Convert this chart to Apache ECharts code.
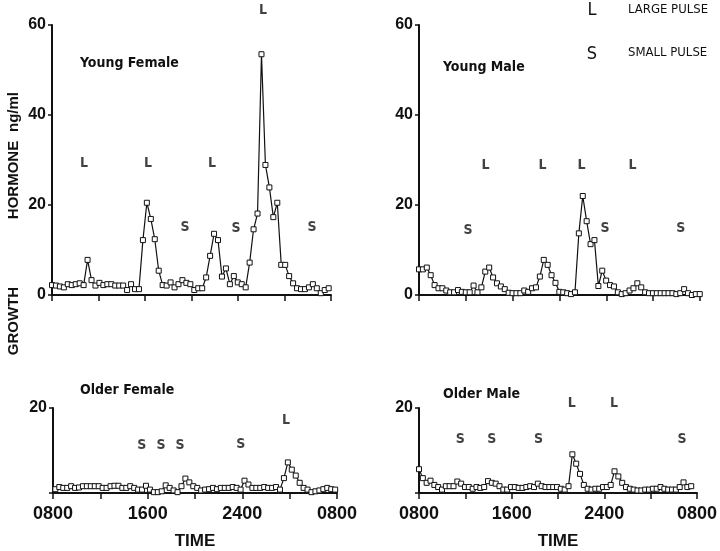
<!DOCTYPE html>
<html>
<head>
<meta charset="utf-8">
<script src="https://cdn.jsdelivr.net/npm/echarts@6/dist/echarts.min.js"></script>
<style>
  html, body { margin: 0; padding: 0; background: #fff; }
  #chart { width: 720px; height: 551px; }
</style>
</head>
<body>
<div id="chart"></div>
<script>
// GH concentration (ng/ml), one sample about every 20 min from 0800 to 0800
const youngFemale = [2.2,2.1,1.9,1.7,2.4,2.2,2.4,2.6,2.2,7.8, 3.3,2.1,2.7,2.2,2.4,2.4,2.1,2.1,2.1,1.1,
  2.4,1.3,1.3,12.2,20.5,16.9,12.4,5.4,2.2,2.1, 2.8,1.7,2.4,3.3,2.7,2.4,1.1,1.5,1.5,3.9,
  8.7,13.6,12.2,4.1,5.9,2.4,4.2,2.8,2.4,1.7, 7.2,14.6,18.1,53.5,28.9,23.9,17.3,20.5,6.7,6.7,
  4.2,2.6,1.5,1.3,1.3,1.7,2.4,1.5,0.4,1.1, 1.5];
const youngMale = [5.7,5.7,6.1,4.4,2.2,1.5,1.5,1.0,0.6,0.6, 1.1,0.7,0.6,0.6,2.1,0.6,1.7,5.2,6.1,3.9,
  2.6,1.9,1.3,0.5,0.4,0.4,0.4,1.0,0.7,1.5, 1.7,4.1,7.8,6.7,4.4,2.7,0.7,0.6,0.4,0.2,
  0.6,13.7,22.0,16.4,11.3,12.2,2.0,5.4,3.2,2.2, 1.9,0.6,0.2,0.4,1.0,1.5,2.6,1.7,0.6,0.4,
  0.4,0.4,0.4,0.4,0.4,0.4,0.2,0.4,1.3,0.4, 0,0.2,0.2];
const olderFemale = [0.9,1.4,1.2,1.2,1.6,1.2,1.3,1.6,1.6,1.6, 1.6,1.6,1.2,1.2,1.6,1.7,1.7,1.2,1.2,1.6,
  1.2,0.8,0.8,1.7,0.8,0.2,0.2,0.4,1.8,1.2, 0.6,0.2,1.6,3.4,2.5,1.6,1.2,0.6,0.8,0.9,
  1.2,0.9,1.2,1.2,1.2,1.4,1.2,0.8,2.9,2.0, 1.2,1.2,1.2,1.4,1.2,1.2,1.4,0.8,3.5,7.2,
  5.5,4.1,2.4,1.2,0.8,0.2,0.4,0.6,0.9,1.2, 0.9,0.8];
const olderMale = [5.6,3.5,2.4,2.9,1.9,1.4,0.8,1.6,1.6,1.6, 2.7,2.2,1.4,1.4,1.0,1.4,1.2,1.4,2.8,2.4,
  2.2,1.6,0.8,0.8,1.4,1.4,1.2,1.2,1.4,1.6, 1.4,2.2,1.6,1.4,1.4,1.4,1.4,1.0,0.8,1.6,
  9.1,6.9,4.5,1.9,1.0,0.8,1.0,1.0,1.4,1.4, 1.9,5.1,3.9,2.4,1.4,1.0,0.8,0.6,0.6,0.8,
  0.8,1.0,1.0,1.4,1.0,0.8,0.8,0.8,1.4,2.5, 1.4,1.6];

// first sample time and sampling step (hours after 0800)
const sampleStart = [0, 0, 0.2, 0];
const sampleStep = [0.34, 0.333, 0.333, 0.331];

// pulse letters: [hours after 0800, ng/ml, letter]
const youngFemaleMarks = [[2.75,29.3,'L'],[8.26,29.3,'L'],[13.76,29.3,'L'],[18.15,63.3,'L'],
  [11.44,15.1,'S'],[15.83,14.9,'S'],[22.37,15.1,'S']];
const youngMaleMarks = [[4.19,14.4,'S'],[5.68,28.9,'L'],[10.55,28.9,'L'],[13.88,28.9,'L'],
  [18.24,28.9,'L'],[15.88,14.7,'S'],[22.35,14.9,'S']];
const olderFemaleMarks = [[7.5,11.3,'S'],[9.13,11.1,'S'],[10.73,11.1,'S'],[15.86,11.5,'S'],[19.69,17.2,'L']];
const olderMaleMarks = [[3.56,12.6,'S'],[6.29,12.6,'S'],[10.33,12.6,'S'],[13.18,21.1,'L'],
  [16.83,21.1,'L'],[22.72,12.6,'S']];

const panelTitles = ['Young Female', 'Young Male', 'Older Female', 'Older Male'];
const timeLabels = { 0: '0800', 8: '1600', 16: '2400', 24: '0800' };

const ink = '#111';
const font = 'Liberation Sans, Arial, sans-serif';
const narrow = '"Liberation Sans Narrow", "DejaVu Sans Condensed", "Liberation Sans", sans-serif';

const chart = echarts.init(document.getElementById('chart'));

const grids = [
  { left: 52, top: 25, width: 279, height: 270 },
  { left: 419, top: 25, width: 281, height: 270 },
  { left: 53, top: 408, width: 284, height: 85 },
  { left: 419, top: 408, width: 281, height: 87 },
];

const xAxes = grids.map((g, i) => ({
  type: 'value', gridIndex: i, min: 0, max: 24, interval: 4,
  axisLine: { lineStyle: { color: ink, width: 2 } },
  axisTick: { show: true, length: 6, lineStyle: { color: ink, width: 1.5 } },
  splitLine: { show: false },
  axisLabel: {
    show: i >= 2, margin: 12, showMinLabel: true, showMaxLabel: true,
    color: ink, fontSize: 18, fontWeight: 'bold', fontFamily: font,
    formatter: v => timeLabels[v] || '',
  },
  name: i >= 2 ? 'TIME' : '',
  nameLocation: 'middle', nameGap: 40,
  nameTextStyle: { color: ink, fontSize: 17, fontWeight: 'bold', fontFamily: font },
}));

const yAxes = grids.map((g, i) => ({
  type: 'value', gridIndex: i, min: 0, max: i < 2 ? 60 : 20, interval: 20,
  axisLine: { show: true, lineStyle: { color: ink, width: 2 } },
  axisTick: { show: true, length: 4, lineStyle: { color: ink, width: 1.5 } },
  splitLine: { show: false },
  axisLabel: {
    margin: 6, color: ink, fontSize: 16, fontWeight: 'bold', fontFamily: font,
    formatter: v => (i >= 2 && v === 0 ? '' : String(v)),
  },
}));

const values = [youngFemale, youngMale, olderFemale, olderMale];
const marks = [youngFemaleMarks, youngMaleMarks, olderFemaleMarks, olderMaleMarks];

const series = [];
values.forEach((vals, i) => {
  series.push({
    type: 'line', xAxisIndex: i, yAxisIndex: i,
    data: vals.map((v, k) => [sampleStart[i] + k * sampleStep[i], v]),
    symbol: 'rect', symbolSize: 5, showAllSymbol: true,
    itemStyle: { color: '#fff', borderColor: ink, borderWidth: 1 },
    lineStyle: { color: ink, width: 1.2 },
  });
  series.push({
    type: 'scatter', xAxisIndex: i, yAxisIndex: i, clip: false,
    data: marks[i], symbolSize: 1,
    itemStyle: { color: 'rgba(0,0,0,0)' },
    label: {
      show: true, position: 'inside', formatter: p => p.value[2],
      color: ink, fontSize: 14, fontWeight: 'bold', fontFamily: narrow,
    },
  });
});

const titlePos = [[80, 65], [443, 69], [80, 392], [443, 396]];
const graphic = panelTitles.map((t, i) => ({
  type: 'text', left: titlePos[i][0], top: titlePos[i][1] - 9,
  style: { text: t, fill: ink, font: 'bold 14px ' + narrow },
}));

// legend
graphic.push(
  { type: 'text', x: 592, y: 10, style: { text: 'L', fill: ink, font: '18px ' + narrow, textAlign: 'center', textVerticalAlign: 'middle' } },
  { type: 'text', x: 628, y: 10, style: { text: 'LARGE PULSE', fill: ink, font: '13px ' + narrow, textVerticalAlign: 'middle' } },
  { type: 'text', x: 592, y: 54, style: { text: 'S', fill: ink, font: '18px ' + narrow, textAlign: 'center', textVerticalAlign: 'middle' } },
  { type: 'text', x: 628, y: 53, style: { text: 'SMALL PULSE', fill: ink, font: '13px ' + narrow, textVerticalAlign: 'middle' } }
);

// vertical axis title, split like the original
[['ng/ml', 112], ['HORMONE', 180], ['GROWTH', 321]].forEach(([t, y]) => {
  graphic.push({
    type: 'text', x: 14, y: y, rotation: Math.PI / 2,
    style: { text: t, fill: ink, font: 'bold 15px ' + font, textAlign: 'center', textVerticalAlign: 'middle' },
  });
});

chart.setOption({
  animation: false,
  grid: grids,
  xAxis: xAxes,
  yAxis: yAxes,
  series: series,
  graphic: graphic,
});
</script>
</body>
</html>
